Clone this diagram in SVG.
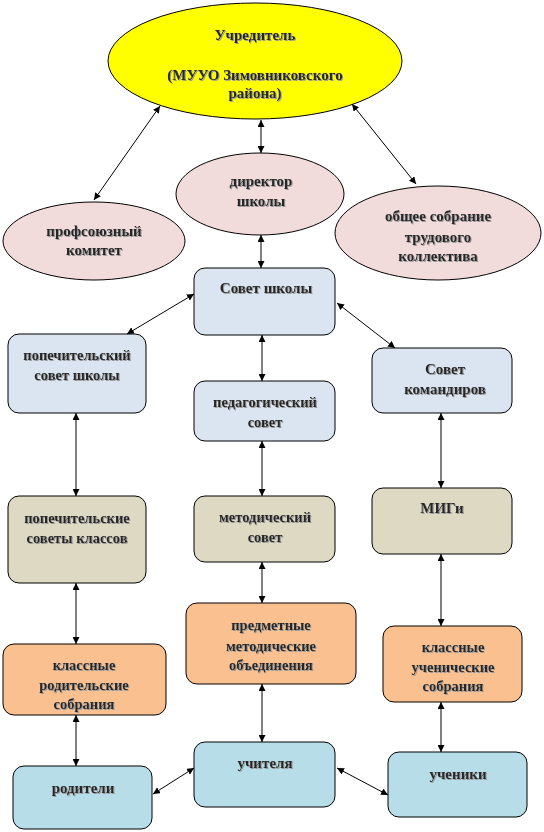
<svg xmlns="http://www.w3.org/2000/svg" width="544" height="832" viewBox="0 0 544 832">
<defs>
<marker id="ah" viewBox="0 0 10 10" refX="10" refY="5" markerWidth="7" markerHeight="7" orient="auto-start-reverse" markerUnits="userSpaceOnUse">
<path d="M0,0 L10,5 L0,10 z" fill="#000"/>
</marker>
<filter id="sh" x="-10%" y="-30%" width="120%" height="160%">
<feDropShadow dx="1" dy="1" stdDeviation="0.3" flood-color="#9a9a9a" flood-opacity="1"/>
</filter>
</defs>
<style>
.n{stroke:#000;stroke-width:1}
.y{fill:#ffff00}
.p{fill:#f2dcdb}
.b{fill:#dbe5f1}
.g{fill:#ddd9c3}
.o{fill:#fac090}
.c{fill:#b7dde8}
text{font-family:"Liberation Serif","Times New Roman",serif;font-weight:bold;font-size:15px;fill:#262626;text-anchor:middle;filter:url(#sh)}
.s{font-size:14.5px}
.e line{stroke:#000;stroke-width:1;marker-start:url(#ah);marker-end:url(#ah)}
</style>
<g id="uchreditel">
<ellipse class="n y" cx="255" cy="61" rx="147" ry="58"/>
<text x="255" y="40">Учредитель</text>
<text x="255" y="80">(МУУО Зимовниковского</text>
<text x="255" y="98">района)</text>
</g>
<g id="direktor">
<ellipse class="n p" cx="260" cy="194" rx="84" ry="41"/>
<text x="261" y="186">директор</text>
<text x="261" y="206">школы</text>
</g>
<g id="profkom">
<ellipse class="n p" cx="94" cy="241" rx="91" ry="39"/>
<text x="94" y="236">профсоюзный</text>
<text x="94" y="255">комитет</text>
</g>
<g id="obshee">
<ellipse class="n p" cx="438" cy="233" rx="103" ry="47"/>
<text x="438" y="221">общее собрание</text>
<text x="438" y="242">трудового</text>
<text x="438" y="261">коллектива</text>
</g>
<g id="sovet-shkoly">
<rect class="n b" x="194" y="268" width="141" height="67" rx="11"/>
<text x="266" y="293">Совет школы</text>
</g>
<g id="popech-sovet">
<rect class="n b" x="8" y="334" width="138" height="79" rx="11"/>
<text class="s" x="77" y="360">попечительский</text>
<text class="s" x="77" y="380">совет школы</text>
</g>
<g id="sovet-komandirov">
<rect class="n b" x="372" y="348" width="140" height="65" rx="11"/>
<text x="445" y="374">Совет</text>
<text x="445" y="394">командиров</text>
</g>
<g id="ped-sovet">
<rect class="n b" x="194" y="381" width="141" height="60" rx="11"/>
<text class="s" x="265" y="407">педагогический</text>
<text class="s" x="265" y="427">совет</text>
</g>
<g id="popech-klassov">
<rect class="n g" x="8" y="496" width="138" height="87" rx="11"/>
<text class="s" x="77" y="523">попечительские</text>
<text class="s" x="77" y="543">советы классов</text>
</g>
<g id="metod-sovet">
<rect class="n g" x="194" y="496" width="141" height="66" rx="11"/>
<text class="s" x="265" y="522">методический</text>
<text class="s" x="265" y="542">совет</text>
</g>
<g id="migi">
<rect class="n g" x="372" y="488" width="140" height="66" rx="11"/>
<text x="442" y="513">МИГи</text>
</g>
<g id="rod-sobraniya">
<rect class="n o" x="3" y="644" width="163" height="71" rx="11"/>
<text class="s" x="84" y="670">классные</text>
<text class="s" x="84" y="690">родительские</text>
<text class="s" x="84" y="709">собрания</text>
</g>
<g id="predmetnye">
<rect class="n o" x="186" y="603" width="170" height="81" rx="11"/>
<text class="s" x="271" y="630">предметные</text>
<text class="s" x="271" y="651">методические</text>
<text class="s" x="271" y="670">объединения</text>
</g>
<g id="uch-sobraniya">
<rect class="n o" x="383" y="626" width="139" height="76" rx="11"/>
<text class="s" x="453" y="652">классные</text>
<text class="s" x="453" y="672">ученические</text>
<text class="s" x="453" y="691">собрания</text>
</g>
<g id="roditeli">
<rect class="n c" x="13" y="766" width="139" height="63" rx="11"/>
<text x="83" y="793">родители</text>
</g>
<g id="uchitelya">
<rect class="n c" x="194" y="742" width="141" height="65" rx="11"/>
<text x="265" y="768">учителя</text>
</g>
<g id="ucheniki">
<rect class="n c" x="388" y="752" width="139" height="65" rx="11"/>
<text x="458" y="779">ученики</text>
</g>
<g id="connectors" class="e">
<line x1="160" y1="106" x2="94" y2="200"/>
<line x1="261" y1="120" x2="261" y2="153"/>
<line x1="352" y1="104" x2="416" y2="184"/>
<line x1="261" y1="235" x2="261" y2="268"/>
<line x1="194" y1="294" x2="127" y2="334"/>
<line x1="337" y1="303" x2="395" y2="348"/>
<line x1="262" y1="335" x2="262" y2="381"/>
<line x1="76" y1="413" x2="76" y2="496"/>
<line x1="441" y1="413" x2="441" y2="488"/>
<line x1="262" y1="441" x2="262" y2="496"/>
<line x1="76" y1="583" x2="76" y2="644"/>
<line x1="262" y1="562" x2="262" y2="603"/>
<line x1="441" y1="554" x2="441" y2="626"/>
<line x1="76" y1="715" x2="76" y2="766"/>
<line x1="262" y1="684" x2="262" y2="742"/>
<line x1="441" y1="702" x2="441" y2="752"/>
<line x1="194" y1="768" x2="153" y2="794"/>
<line x1="337" y1="768" x2="388" y2="795"/>
</g>
</svg>
